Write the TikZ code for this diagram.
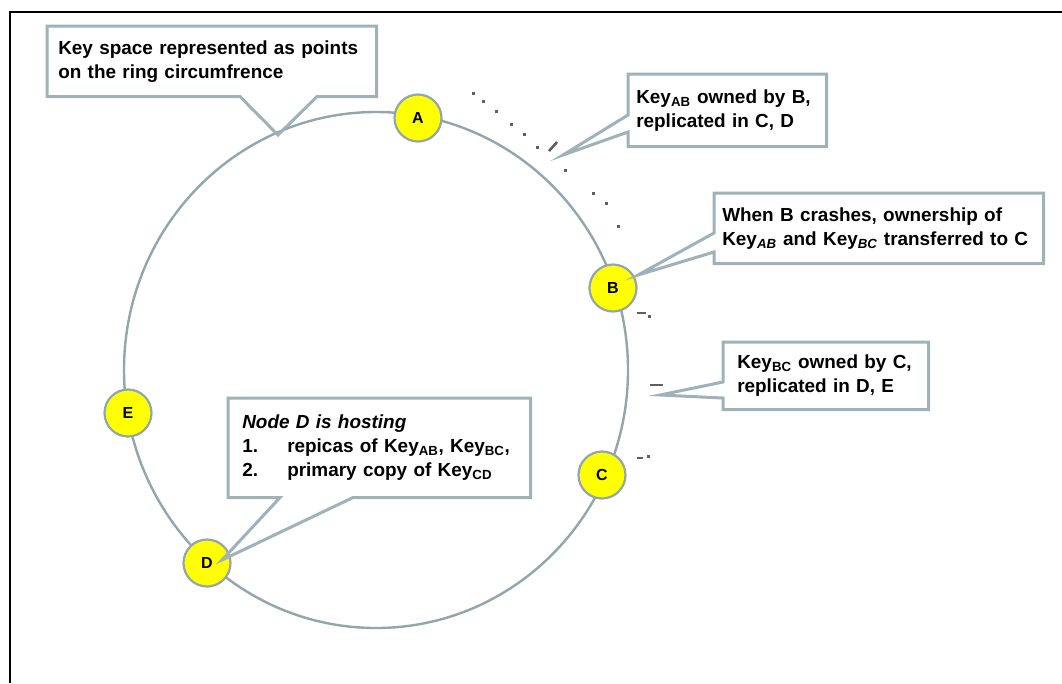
\documentclass[tikz,border=0pt]{standalone}
\usepackage{fontspec}
\setmainfont{Liberation Sans}
\usetikzlibrary{calc}
\newdimen\pxu \pxu=0.75pt
\definecolor{ringc}{RGB}{146,166,171}
\definecolor{boxc}{RGB}{158,178,183}
\definecolor{dotc}{RGB}{95,95,95}
\definecolor{keyyellow}{RGB}{255,255,0}
\tikzset{
  keynode/.style={circle, draw=ringc, line width=2.2\pxu, fill=keyyellow,
    minimum size=47\pxu, inner sep=0pt,
    font=\fontsize{12pt}{14pt}\selectfont\bfseries},
  note/.style={anchor=north west, fill=white, inner xsep=0pt, inner ysep=0pt,
    align=left, font=\fontsize{14.2pt}{18pt}\selectfont\bfseries},
  noteline/.style={draw=boxc, line width=3\pxu, line join=miter},
  ringline/.style={draw=ringc, line width=2.4\pxu},
  frameline/.style={draw=black, line width=2.4\pxu},
  mark dot/.style={fill=dotc}
}
\begin{document}
\begin{tikzpicture}[x=\pxu, y=-\pxu]
\useasboundingbox (0,0) rectangle (1062,683);
% outer frame (top and left edges)
\draw[frameline] (10,683) -- (10,12) -- (1062,12);

% the hash ring
\draw[ringline] (376,370) ellipse [x radius=252, y radius=258];

% dotted key-range markers
\foreach \x/\y in {473/93, 483/101, 496/111, 511/124, 524/134, 537/147,
                   565/170, 593/193, 606/203, 618/226, 649/316, 648/456}
  \fill[mark dot] (\x-1.5,\y-1.5) rectangle (\x+1.5,\y+1.5);
\draw[dotc, line width=2.6\pxu] (549,151) -- (557,142);
\draw[dotc, line width=2.6\pxu] (637,313) -- (646,313);
\draw[dotc, line width=2.6\pxu] (650,385) -- (663,385);
\draw[dotc, line width=2.6\pxu] (637,458) -- (643,458);

% ring members
\node[keynode] (A) at (418,118) {A};
\node[keynode] (B) at (613,288) {B};
\node[keynode] (C) at (602,475) {C};
\node[keynode] (D) at (207,563) {D};
\node[keynode] (E) at (128,413) {E};

% pointer tips that are not on a node
\coordinate (t1) at (278,135);
\coordinate (t2) at (563,155);
\coordinate (t4) at (660,395);

% callout 1
\node[note, minimum width=329\pxu, minimum height=70\pxu, text width=307\pxu]
  (k1) at (47,26) {Key space represented as points\\on the ring circumfrence};
\draw[noteline] ($(k1.south west)+(193,0)$) -- (k1.south west) -- (k1.north west)
  -- (k1.north east) -- (k1.south east) -- ($(k1.south west)+(270,0)$)
  -- (t1) -- cycle;

% callout 2
\node[note, minimum width=198\pxu, minimum height=72\pxu, text width=182\pxu]
  (k2) at (628,74) {Key\textsubscript{AB} owned by B,\\replicated in C, D};
\draw[noteline] ($(k2.north west)+(0,41)$) -- (k2.north west) -- (k2.north east)
  -- (k2.south east) -- (k2.south west) -- ($(k2.north west)+(0,58)$)
  -- (t2) -- cycle;

% callout 3
\node[note, minimum width=329\pxu, minimum height=70\pxu, text width=313\pxu]
  (k3) at (714,193) {When B crashes, ownership of\\Key\textsubscript{\itshape AB} and Key\textsubscript{\itshape BC} transferred to C};
\draw[noteline] ($(k3.north west)+(0,40)$) -- (k3.north west) -- (k3.north east)
  -- (k3.south east) -- (k3.south west) -- ($(k3.north west)+(0,59)$)
  -- ($(B.center)+(25,-13)$) -- cycle;

% callout 4
\node[note, minimum width=205\pxu, minimum height=67\pxu, text width=177\pxu]
  (k4) at (723,342) {Key\textsubscript{BC} owned by C,\\replicated in D, E};
\draw[noteline] ($(k4.north west)+(0,40)$) -- (k4.north west) -- (k4.north east)
  -- (k4.south east) -- (k4.south west) -- ($(k4.north west)+(0,56)$)
  -- (t4) -- cycle;

% callout 5
\node[note, minimum width=302\pxu, minimum height=99\pxu, text width=274\pxu]
  (k5) at (228,398) {\textit{Node D is hosting}\\
  \makebox[45\pxu][l]{1.}repicas of Key\textsubscript{AB}, Key\textsubscript{BC},\\
  \makebox[45\pxu][l]{2.}primary copy of Key\textsubscript{CD}};
\draw[noteline] ($(k5.south west)+(52,0)$) -- (k5.south west) -- (k5.north west)
  -- (k5.north east) -- (k5.south east) -- ($(k5.south west)+(125,0)$)
  -- ($(D.center)+(15,-3)$) -- cycle;
\end{tikzpicture}
\end{document}
